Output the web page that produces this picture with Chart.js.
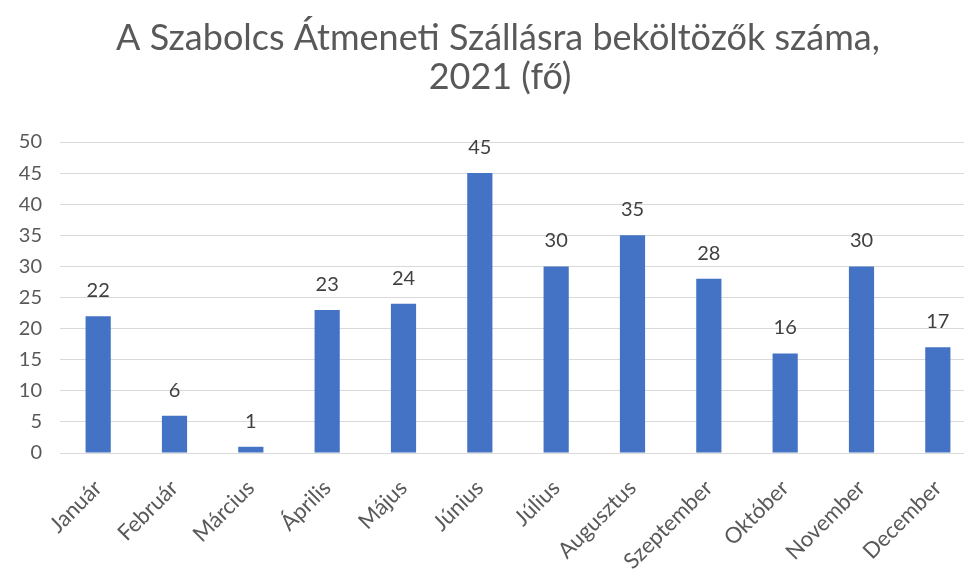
<!DOCTYPE html>
<html><head><meta charset="utf-8">
<script src="https://cdn.jsdelivr.net/npm/chart.js@4"></script>
<style>html,body{margin:0;padding:0;background:#fff;overflow:hidden}#wrap{width:964px;height:570px;overflow:hidden}</style>
</head><body><div id="wrap"><canvas id="c" width="976" height="570" style="width:976px;height:570px"></canvas></div>
<script>
const categories = ["Január","Február","Március","Április","Május","Június","Július","Augusztus","Szeptember","Október","November","December"];
const values = [22,6,1,23,24,45,30,35,28,16,30,17];
const titleLines = ["A Szabolcs Átmeneti Szállásra beköltözők száma,","2021 (fő)"];
const FONT = "Lato, 'Open Sans', sans-serif";

const labelPlugin = {
  id: 'valLabels',
  afterDatasetsDraw(chart) {
    const ctx = chart.ctx;
    const meta = chart.getDatasetMeta(0);
    ctx.save();
    ctx.font = "20px " + FONT;
    ctx.fillStyle = "#404040";
    ctx.textAlign = "center";
    ctx.textBaseline = "alphabetic";
    meta.data.forEach((bar, i) => {
      ctx.fillText(String(values[i]), bar.x, bar.y - 19);
    });
    ctx.restore();
  }
};

const titlePlugin = {
  id: 'twoLineTitle',
  afterDraw(chart) {
    const ctx = chart.ctx;
    ctx.save();
    ctx.font = "36px " + FONT;
    ctx.fillStyle = "#595959";
    ctx.textAlign = "center";
    ctx.textBaseline = "alphabetic";
    const cx = chart.width / 2 + 10;
    ctx.fillText(titleLines[0], cx, 50);
    ctx.fillText(titleLines[1], cx + 2, 89);
    ctx.restore();
  }
};

new Chart(document.getElementById('c'), {
  type: 'bar',
  data: { labels: categories, datasets: [{ data: values, backgroundColor: '#4472C4', categoryPercentage: 1, barPercentage: 0.33 }] },
  options: {
    responsive: false, animation: false,
    layout: { padding: { left: 0, right: 0, top: 142, bottom: 0 } },
    plugins: {
      legend: { display: false },
      tooltip: { enabled: false },
      title: { display: false }
    },
    scales: {
      y: { min: 0, max: 50, ticks: { stepSize: 5, color: '#595959', font: { family: FONT, size: 20 }, padding: 18 },
           grid: { color: '#d9d9d9', drawTicks: false }, border: { display: false },
           afterFit(s) { s.width = 60; } },
      x: { ticks: { color: '#595959', font: { family: FONT, size: 22 }, maxRotation: 45, minRotation: 45, padding: 14 },
           grid: { display: false }, border: { color: '#d9d9d9', width: 1 },
           afterFit(s) { s.height = 117; } }
    }
  },
  plugins: [labelPlugin, titlePlugin]
});
</script></body></html>
